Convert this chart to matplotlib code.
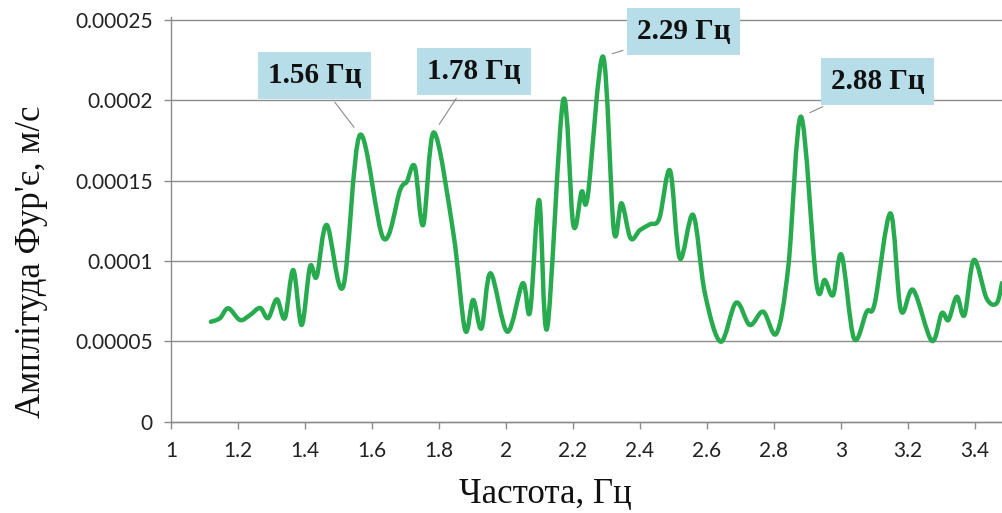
import numpy as np
import matplotlib
matplotlib.use("Agg")
import matplotlib.pyplot as plt
from matplotlib.path import Path
from matplotlib.patches import PathPatch

# ---- data ----
freq = [1.119, 1.146, 1.171, 1.206, 1.236, 1.266, 1.290, 1.316, 1.340, 1.365,
        1.390, 1.415, 1.435, 1.465, 1.514, 1.564, 1.634, 1.684, 1.704, 1.728,
        1.753, 1.785, 1.843, 1.878, 1.902, 1.927, 1.954, 2.004, 2.050, 2.072,
        2.099, 2.123, 2.171, 2.201, 2.226, 2.244, 2.290, 2.322, 2.345, 2.372,
        2.400, 2.430, 2.458, 2.490, 2.519, 2.559, 2.594, 2.641, 2.687, 2.728,
        2.768, 2.808, 2.843, 2.881, 2.927, 2.952, 2.977, 3.002, 3.039, 3.077,
        3.101, 3.148, 3.179, 3.216, 3.271, 3.301, 3.321, 3.346, 3.369, 3.397,
        3.435, 3.465, 3.481]
amp = [6.21e-5, 6.43e-5, 7.05e-5, 6.32e-5, 6.63e-5, 7.07e-5, 6.44e-5, 7.61e-5, 6.44e-5, 9.43e-5,
       6.01e-5, 9.64e-5, 9.02e-5, 1.224e-4, 8.39e-5, 1.784e-4, 1.141e-4, 1.441e-4, 1.493e-4, 1.587e-4,
       1.224e-4, 1.80e-4, 1.172e-4, 5.70e-5, 7.57e-5, 5.80e-5, 9.23e-5, 5.59e-5, 8.61e-5, 6.84e-5,
       1.379e-4, 5.80e-5, 2.002e-4, 1.224e-4, 1.431e-4, 1.400e-4, 2.272e-4, 1.192e-4, 1.359e-4, 1.141e-4,
       1.192e-4, 1.228e-4, 1.265e-4, 1.562e-4, 1.016e-4, 1.286e-4, 7.98e-5, 4.97e-5, 7.40e-5, 6.01e-5,
       6.84e-5, 5.49e-5, 9.64e-5, 1.898e-4, 8.61e-5, 8.81e-5, 7.88e-5, 1.037e-4, 5.18e-5, 6.84e-5,
       7.36e-5, 1.296e-4, 6.94e-5, 8.19e-5, 5.03e-5, 6.74e-5, 6.32e-5, 7.77e-5, 6.63e-5, 1.006e-4,
       7.67e-5, 7.36e-5, 8.62e-5]
peak_freqs = [1.56, 1.78, 2.29, 2.88]
peak_labels = ["1.56 Гц", "1.78 Гц", "2.29 Гц", "2.88 Гц"]
x_ticks = [1, 1.2, 1.4, 1.6, 1.8, 2, 2.2, 2.4, 2.6, 2.8, 3, 3.2, 3.4]
x_ticklabels = ["1", "1.2", "1.4", "1.6", "1.8", "2", "2.2", "2.4", "2.6", "2.8", "3", "3.2", "3.4"]
y_ticks = [0, 0.00005, 0.0001, 0.00015, 0.0002, 0.00025]
y_ticklabels = ["0", "0.00005", "0.0001", "0.00015", "0.0002", "0.00025"]
x_label = "Частота, Гц"
y_label = "Амплітуда Фур'є, м/с"

# ---- layout / style ----
W, H = 1002, 513
fig = plt.figure(figsize=(W / 100, H / 100), dpi=100)
ax = fig.add_axes([171 / W, 1 - 421.5 / H, (W - 171) / W, (421.5 - 16.8) / H])
ax.set_xlim(1, 3.481)
ax.set_ylim(0, 0.000252)

GREEN = "#27ab4e"
GRID = "#8c8c8c"
BOXC = "#b7dde8"

# smoothed line (Catmull-Rom style Bezier, like the spreadsheet's smooth line)
P = np.column_stack([freq, amp])
verts = [tuple(P[0])]
codes = [Path.MOVETO]
n = len(P)
for i in range(n - 1):
    p0 = P[i - 1] if i > 0 else P[i]
    p1 = P[i]
    p2 = P[i + 1]
    p3 = P[i + 2] if i + 2 < n else P[i + 1]
    c1 = p1 + (p2 - p0) / 6.0
    c2 = p2 - (p3 - p1) / 6.0
    verts += [tuple(c1), tuple(c2), tuple(p2)]
    codes += [Path.CURVE4] * 3
patch = PathPatch(Path(verts, codes), facecolor="none", edgecolor=GREEN,
                  lw=3.2, capstyle="round", joinstyle="round", zorder=3)
ax.add_patch(patch)

# axes styling
for s in ["top", "right"]:
    ax.spines[s].set_visible(False)
for s in ["left", "bottom"]:
    ax.spines[s].set_color(GRID)
    ax.spines[s].set_linewidth(1.0)
ax.set_yticks(y_ticks)
ax.set_yticklabels(y_ticklabels)
ax.set_xticks(x_ticks)
ax.set_xticklabels(x_ticklabels)
ax.tick_params(axis="both", direction="out", length=5, width=1.0, color=GRID,
               labelsize=15, labelcolor="#222222")
ax.tick_params(axis="x", pad=9)
ax.tick_params(axis="y", pad=8)
for lab in ax.get_xticklabels() + ax.get_yticklabels():
    lab.set_family(["Lato", "DejaVu Sans"])
ax.yaxis.grid(True, color=GRID, lw=1.0)
ax.set_axisbelow(True)
for gl in ax.yaxis.get_gridlines():
    gl.set_clip_on(False)

# axis titles
fig.text(545 / W, 1 - 494 / H, x_label, ha="center", va="center",
         fontsize=25, family=["Liberation Serif", "DejaVu Serif"], color="#111111")
fig.text(32 / W, 1 - 261.5 / H, y_label, ha="center", va="center", rotation=90,
         fontsize=25, family=["Liberation Serif", "DejaVu Serif"], color="#111111")

# peak annotations (offsets in pixels from the peak)
label_offsets = [(-45.5, 59.5), (40, 61), (80.7, 25.2), (76.5, 35.2)]
fa = np.array(freq)
for pf, txt, off in zip(peak_freqs, peak_labels, label_offsets):
    i = int(np.argmin(np.abs(fa - pf)))
    ax.annotate(txt, xy=(freq[i], amp[i]), xytext=off, textcoords="offset pixels",
                ha="center", va="center", fontsize=21, fontweight="bold",
                family=["Liberation Serif", "DejaVu Serif"], color="#111111",
                bbox=dict(boxstyle="square,pad=0.34", fc=BOXC, ec="none"),
                arrowprops=dict(arrowstyle="-", color="#8a8a8a", lw=0.8,
                                shrinkA=3, shrinkB=7),
                annotation_clip=False, zorder=5)

fig.savefig("out.png", dpi=100)
